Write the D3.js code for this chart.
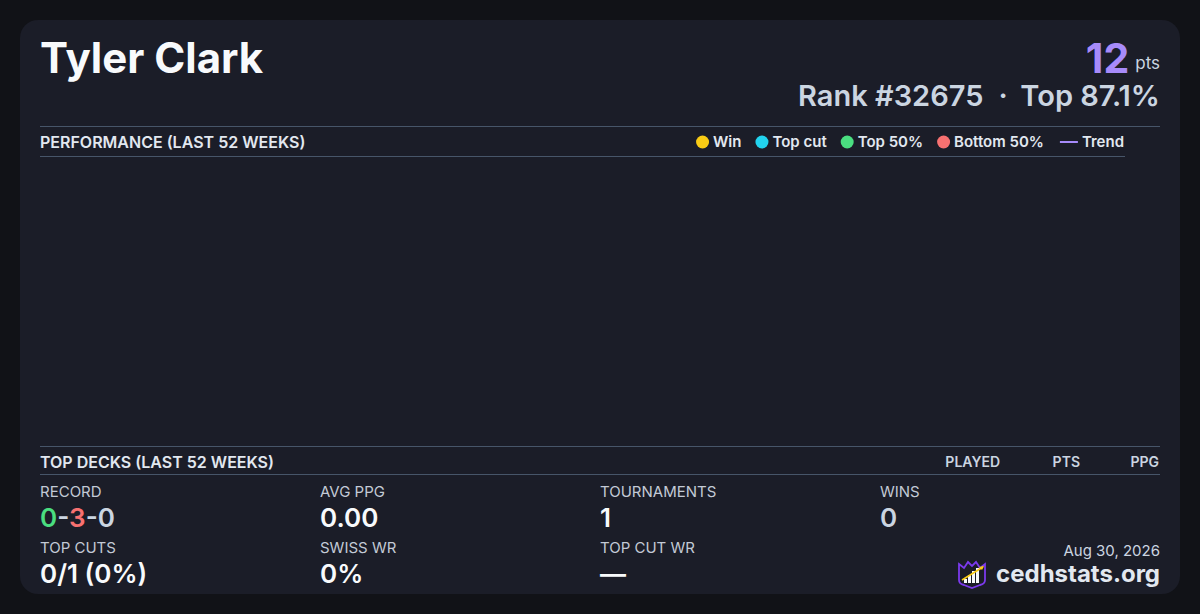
<!DOCTYPE html>
<html>
<head>
<meta charset="utf-8">
<script src="https://cdn.jsdelivr.net/npm/d3@7/dist/d3.min.js"></script>
<style>
  html, body { margin: 0; padding: 0; background: #111217; }
  svg { display: block; font-family: Inter, "Noto Sans", sans-serif; }
</style>
</head>
<body>
<div id="card"></div>
<script>
(function() {
  // player header
  var playerName = "Tyler Clark"
  var points = 12
  var rankText = "Rank #32675"
  var topText = "Top 87.1%"
  var dateText = "Aug 30, 2026"

  // legend
  var legendLabels = ["Win", "Top cut", "Top 50%", "Bottom 50%", "Trend"]
  var legendColors = ["#facc15", "#22d3ee", "#4ade80", "#f87171", "#a78bfa"]

  // performance (last 52 weeks) - nothing to plot
  var weekIndex = []
  var weekPoints = []

  // top decks table headers (no rows)
  var deckColumns = ["PLAYED", "PTS", "PPG"]

  // stats grid
  var statLabels = ["RECORD", "AVG PPG", "TOURNAMENTS", "WINS", "TOP CUTS", "SWISS WR", "TOP CUT WR"]
  var statValues = ["0-3-0", "0.00", "1", "0", "0/1 (0%)", "0%", "\u2014"]

  var width = 1200, height = 614

  var svg = d3.select("#card")
    .append("svg")
    .attr("width", width)
    .attr("height", height)

  svg.append("rect")
    .attr("x", 20).attr("y", 20)
    .attr("width", 1160).attr("height", 574)
    .attr("rx", 18)
    .attr("fill", "#1b1d28")

  // header
  svg.append("text")
    .attr("x", 40).attr("y", 73)
    .attr("font-size", 42).attr("font-weight", 700)
    .attr("fill", "#f8fafc")
    .text(playerName)

  var ptsText = svg.append("text")
    .attr("x", 1160).attr("y", 73)
    .attr("text-anchor", "end")
  ptsText.append("tspan")
    .attr("font-size", 41).attr("font-weight", 700)
    .attr("fill", "#a78bfa")
    .text(points)
  ptsText.append("tspan")
    .attr("dx", 6)
    .attr("dy", -4)
    .attr("font-size", 17).attr("font-weight", 400)
    .attr("fill", "#cbd5e1")
    .text("pts")

  var rank = svg.append("text")
    .attr("x", 1160).attr("y", 106)
    .attr("text-anchor", "end")
    .attr("font-size", 29).attr("font-weight", 600)
    .attr("fill", "#cbd5e1")
  rank.append("tspan").text(rankText)
  rank.append("tspan").attr("dx", 15).text("\u00b7")
  rank.append("tspan").attr("dx", 15).text(topText)

  // performance section
  svg.append("line")
    .attr("x1", 40).attr("x2", 1160).attr("y1", 126.5).attr("y2", 126.5)
    .attr("stroke", "#475569")
  svg.append("line")
    .attr("x1", 40).attr("x2", 1125).attr("y1", 156.5).attr("y2", 156.5)
    .attr("stroke", "#475569")
  svg.append("text")
    .attr("x", 40).attr("y", 148)
    .attr("font-size", 16).attr("font-weight", 600)
    .attr("fill", "#e2e8f0")
    .text("PERFORMANCE (LAST 52 WEEKS)")

  // legend, laid out right to left
  var legend = svg.append("g")
  var xCursor = 1124
  for (var i = legendLabels.length - 1; i >= 0; i--) {
    var t = legend.append("text")
      .attr("y", 147)
      .attr("font-size", 15).attr("font-weight", 600)
      .attr("fill", "#e2e8f0")
      .attr("text-anchor", "end")
      .attr("x", xCursor)
      .text(legendLabels[i])
    var w = t.node().getComputedTextLength()
    var left = xCursor - w
    if (legendLabels[i] === "Trend") {
      legend.append("line")
        .attr("x1", left - 22).attr("x2", left - 4)
        .attr("y1", 142).attr("y2", 142)
        .attr("stroke", legendColors[i]).attr("stroke-width", 2)
      xCursor = left - 22 - 16
    } else {
      legend.append("circle")
        .attr("cx", left - 10.5).attr("cy", 142).attr("r", 6.5)
        .attr("fill", legendColors[i])
      xCursor = left - 17 - 14
    }
  }

  // empty chart area
  var xScale = d3.scaleLinear().domain([0, 51]).range([60, 1110])
  var yScale = d3.scaleLinear().domain([0, 1]).range([430, 175])
  var colorScale = d3.scaleOrdinal().domain(legendLabels).range(legendColors)

  svg.append("g").selectAll("circle")
    .data(weekPoints)
    .enter().append("circle")
    .attr("cx", function(d, i) { return xScale(weekIndex[i]) })
    .attr("cy", function(d) { return yScale(d.value) })
    .attr("r", 5)
    .attr("fill", function(d) { return colorScale(d.result) })

  // top decks section
  svg.append("line")
    .attr("x1", 40).attr("x2", 1160).attr("y1", 446.5).attr("y2", 446.5)
    .attr("stroke", "#475569")
  svg.append("line")
    .attr("x1", 40).attr("x2", 1160).attr("y1", 474.5).attr("y2", 474.5)
    .attr("stroke", "#475569")
  svg.append("text")
    .attr("x", 40).attr("y", 468)
    .attr("font-size", 16).attr("font-weight", 600)
    .attr("fill", "#e2e8f0")
    .text("TOP DECKS (LAST 52 WEEKS)")

  var colRight = [1000, 1080, 1159]
  svg.append("g").selectAll("text")
    .data(deckColumns)
    .enter().append("text")
    .attr("x", function(d, i) { return colRight[i] })
    .attr("y", 467)
    .attr("text-anchor", "end")
    .attr("font-size", 14).attr("font-weight", 600)
    .attr("fill", "#cbd5e1")
    .text(function(d) { return d })

  // stats grid
  var colX = [40, 320, 600, 880]
  statLabels.forEach(function(label, i) {
    var row = i < 4 ? 0 : 1
    var col = i % 4
    var x = colX[col]
    var labelY = row === 0 ? 497 : 553
    var valueY = row === 0 ? 527 : 583
    svg.append("text")
      .attr("x", x).attr("y", labelY)
      .attr("font-size", 15)
      .attr("fill", "#c3cad6")
      .text(label)

    var v = svg.append("text")
      .attr("x", x).attr("y", valueY)
      .attr("font-size", 26).attr("font-weight", 600)
      .attr("fill", "#f8fafc")
    if (label === "RECORD") {
      var parts = statValues[i].split("-")
      v.append("tspan").attr("fill", "#4ade80").text(parts[0])
      v.append("tspan").attr("fill", "#cbd5e1").text("-")
      v.append("tspan").attr("fill", "#f87171").text(parts[1])
      v.append("tspan").attr("fill", "#cbd5e1").text("-" + parts[2])
    } else if (label === "WINS") {
      v.attr("fill", "#cbd5e1").text(statValues[i])
    } else {
      v.text(statValues[i])
    }
  })

  // footer
  svg.append("text")
    .attr("x", 1160).attr("y", 556)
    .attr("text-anchor", "end")
    .attr("font-size", 15)
    .attr("fill", "#cbd5e1")
    .text(dateText)

  svg.append("text")
    .attr("x", 1160).attr("y", 582)
    .attr("text-anchor", "end")
    .attr("font-size", 24).attr("font-weight", 700)
    .attr("fill", "#e2e8f0")
    .text("cedhstats.org")

  // logo
  var logo = svg.append("g").attr("transform", "translate(958,560)")
  logo.append("path")
    .attr("d", "M1,4 L6,8 L10,2 L14,6 L18,2 L22,8 L27,4 L27,20 Q27,24 22,25 L14,28 L6,25 Q1,24 1,20 Z")
    .attr("fill", "#1b1d28")
    .attr("stroke", "#7c3aed").attr("stroke-width", 1.8)
  var bars = [[6, 19, 3], [10, 15, 3], [14, 11, 3], [18, 8, 3]]
  bars.forEach(function(b) {
    logo.append("rect")
      .attr("x", b[0]).attr("y", b[1])
      .attr("width", b[2]).attr("height", 23 - b[1])
      .attr("fill", "#f8fafc")
  })
  logo.append("line")
    .attr("x1", 4).attr("y1", 20).attr("x2", 25).attr("y2", 7)
    .attr("stroke", "#facc15").attr("stroke-width", 1.6)
  logo.append("path")
    .attr("d", "M26,6 L21,7 L24,10 Z")
    .attr("fill", "#facc15")
})()
</script>
</body>
</html>
